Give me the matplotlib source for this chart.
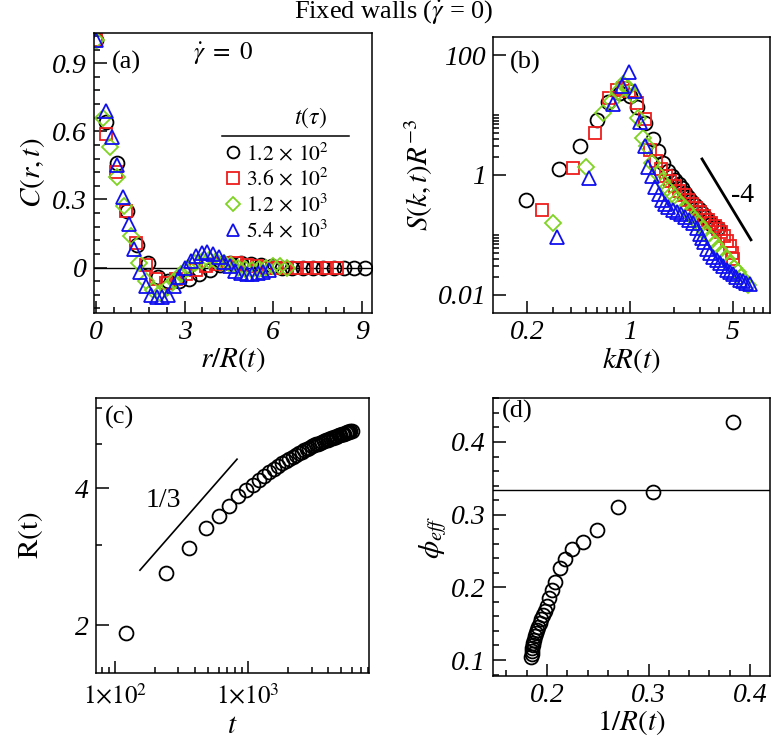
import matplotlib
matplotlib.use("Agg")
import matplotlib.pyplot as plt
from matplotlib.lines import Line2D
from matplotlib.ticker import MultipleLocator, FixedLocator, LogLocator, NullFormatter

plt.rcParams["font.family"] = ["Liberation Serif", "DejaVu Serif"]
plt.rcParams["mathtext.fontset"] = "stix"

# ---- (a) C(r,t) vs r/R(t) ----
r_black = [0.0, 0.35, 0.70, 1.05, 1.40, 1.75, 2.10, 2.45, 2.80, 3.15, 3.50, 3.85, 4.20, 4.55,
           4.90, 5.25, 5.60, 5.95, 6.30, 6.65, 7.00, 7.35, 7.70, 8.05, 8.40, 8.75, 9.10]
c_black = [1.0, 0.64, 0.46, 0.25, 0.10, 0.02, -0.04, -0.06, -0.06, -0.05, -0.03, -0.01, 0.01, 0.02,
           0.02, 0.015, 0.01, 0.005, 0.0, 0.0, 0.0, 0.0, 0.0, 0.0, 0.0, 0.0, 0.0]
r_red = [0.0, 0.34, 0.68, 1.02, 1.36, 1.70, 2.04, 2.38, 2.72, 3.06, 3.40, 3.74, 4.08, 4.42,
         4.76, 5.10, 5.44, 5.78, 6.12, 6.46, 6.80, 7.14, 7.48, 7.82, 8.16]
c_red = [1.0, 0.59, 0.42, 0.25, 0.11, 0.01, -0.05, -0.07, -0.05, -0.03, -0.01, 0.005, 0.015, 0.02,
         0.02, 0.01, 0.005, 0.0, 0.0, 0.0, 0.0, 0.0, 0.0, 0.0, 0.0]
r_green = [0.0, 0.24, 0.48, 0.72, 0.96, 1.20, 1.44, 1.68, 1.92, 2.16, 2.40, 2.64, 2.88, 3.12,
           3.36, 3.60, 3.84, 4.08, 4.32, 4.56, 4.80, 5.04, 5.28, 5.52, 5.76, 6.00, 6.24, 6.48]
c_green = [1.0, 0.66, 0.53, 0.40, 0.27, 0.14, 0.02, -0.06, -0.10, -0.11, -0.09, -0.06, -0.03, 0.0,
           0.02, 0.03, 0.035, 0.03, 0.02, 0.01, 0.0, -0.005, -0.01, -0.005, 0.0, 0.005, 0.005, 0.0]
r_blue = [0.0, 0.34, 0.53, 0.72, 0.92, 1.11, 1.30, 1.49, 1.68, 1.87, 2.06, 2.25, 2.44, 2.63, 2.82,
          3.01, 3.20, 3.39, 3.58, 3.77, 3.96, 4.15, 4.34, 4.53, 4.72, 4.91, 5.10, 5.29, 5.48, 5.67, 5.86]
c_blue = [1.0, 0.69, 0.575, 0.45, 0.31, 0.19, 0.08, -0.02, -0.08, -0.12, -0.13, -0.13, -0.12, -0.08, -0.04,
          0.0, 0.03, 0.05, 0.065, 0.07, 0.06, 0.045, 0.025, 0.005, -0.015, -0.025, -0.03, -0.03, -0.025, -0.02, -0.01]

# ---- (b) S(k,t)R^-3 vs kR(t) ----
k_black = [0.196, 0.329, 0.457, 0.597, 0.71, 0.86, 1.0, 1.115, 1.27, 1.43, 1.55, 1.68, 1.81, 1.92,
           2.02, 2.14, 2.26, 2.37, 2.48, 2.62, 2.77, 2.93, 3.09, 3.24, 3.39, 3.58, 3.78, 3.97]
s_black = [0.38, 1.26, 3.0, 8.3, 16.5, 23.5, 21, 13.5, 7.5, 4.0, 2.5, 1.6, 1.15, 0.95,
           0.83, 0.71, 0.61, 0.51, 0.43, 0.37, 0.32, 0.27, 0.23, 0.20, 0.18, 0.155, 0.136, 0.13]
k_red = [0.252, 0.41, 0.578, 0.72, 0.82, 0.90, 0.99, 1.12, 1.26, 1.37, 1.50, 1.62, 1.75, 1.88, 2.02, 2.17,
         2.32, 2.48, 2.65, 2.82, 3.00, 3.18, 3.37, 3.56, 3.76, 3.96, 4.16, 4.36, 4.56, 4.76, 4.96, 5.03]
s_red = [0.26, 1.31, 5.0, 19, 26, 28, 25, 16, 8.6, 2.6, 1.7, 1.25, 0.98, 0.80, 0.66, 0.55,
         0.46, 0.39, 0.33, 0.28, 0.24, 0.21, 0.18, 0.16, 0.14, 0.125, 0.11, 0.095, 0.08, 0.065, 0.05, 0.04]
k_green = [0.30, 0.50, 0.655, 0.76, 0.83, 0.90, 0.97, 1.05, 1.13, 1.22, 1.31, 1.42, 1.54, 1.66, 1.79, 1.93,
           2.08, 2.23, 2.40, 2.57, 2.75, 2.94, 3.14, 3.35, 3.57, 3.80, 4.04, 4.29, 4.55, 4.82, 5.10,
           5.39, 5.69, 6.00, 6.32]
s_green = [0.16, 1.38, 11, 17, 24, 33, 28, 21.5, 9, 4.1, 3.0, 1.6, 1.05, 0.78, 0.60, 0.48,
           0.39, 0.32, 0.27, 0.22, 0.18, 0.15, 0.125, 0.10, 0.085, 0.07, 0.058, 0.048, 0.04, 0.033, 0.028,
           0.024, 0.02, 0.017, 0.0145]
k_blue = [0.319, 0.527, 0.766, 0.88, 0.985, 1.08, 1.17, 1.26, 1.33, 1.41, 1.48, 1.57, 1.65, 1.73, 1.81,
          1.95, 2.09, 2.23, 2.37, 2.52, 2.68, 2.85, 3.00, 3.09, 3.20, 3.33, 3.50, 3.67, 3.88, 4.10,
          4.32, 4.56, 4.78, 5.00, 5.30, 5.60, 5.90, 6.20, 6.50]
s_blue = [0.093, 0.89, 15.5, 30, 52, 25, 7.6, 3.0, 1.36, 0.95, 0.63, 0.48, 0.38, 0.33, 0.29,
          0.26, 0.24, 0.22, 0.20, 0.18, 0.16, 0.13, 0.105, 0.09, 0.075, 0.058, 0.05, 0.043, 0.038, 0.034,
          0.03, 0.026, 0.024, 0.022, 0.02, 0.018, 0.017, 0.016, 0.015]
slope_k = [3.09, 6.65]
slope_s = [1.85, 0.083]

# ---- (c) R(t) vs t ----
t_c = [120, 240, 360, 480, 600, 720, 840, 960, 1080, 1200, 1320, 1440, 1560, 1680, 1800, 1920,
       2040, 2160, 2280, 2400, 2520, 2640, 2760, 2880, 3000, 3120, 3240, 3360, 3480, 3600, 3720,
       3840, 3960, 4080, 4200, 4320, 4440, 4560, 4680, 4800, 4920, 5040, 5160, 5280, 5400, 5520,
       5640, 5760, 5880, 6000]
R_c = [1.92, 2.60, 2.95, 3.27, 3.47, 3.66, 3.84, 3.96, 4.07, 4.17, 4.26, 4.33, 4.40, 4.47, 4.53, 4.59,
       4.64, 4.69, 4.73, 4.77, 4.81, 4.85, 4.88, 4.91, 4.94, 4.97, 4.99, 5.01, 5.03, 5.05, 5.07,
       5.09, 5.11, 5.13, 5.15, 5.16, 5.18, 5.19, 5.21, 5.22, 5.24, 5.25, 5.26, 5.27, 5.29, 5.30,
       5.31, 5.32, 5.33, 5.34]
third_t = [154, 826]
third_R = [2.64, 4.63]

# ---- (d) phi_eff vs 1/R(t) ----
invR_d = [0.383, 0.304, 0.270, 0.249, 0.235, 0.225, 0.218, 0.213, 0.208, 0.205, 0.202, 0.200, 0.198,
          0.196, 0.194, 0.193, 0.191, 0.190, 0.189, 0.188, 0.187, 0.1865, 0.186, 0.1855, 0.185,
          0.1848, 0.1845]
phi_d = [0.428, 0.331, 0.311, 0.279, 0.262, 0.253, 0.239, 0.227, 0.208, 0.196, 0.185, 0.175, 0.168,
         0.162, 0.156, 0.151, 0.146, 0.141, 0.137, 0.133, 0.128, 0.124, 0.120, 0.116, 0.112,
         0.108, 0.104]

times_lbl = [r"$1.2\,\times\,10^{2}$", r"$3.6\,\times\,10^{2}$",
             r"$1.2\,\times\,10^{3}$", r"$5.4\,\times\,10^{3}$"]
RED, GREEN, BLUE = "#ee1c1c", "#7ed321", "#1010ee"
MS, MEW = 10, 1.3
TFS = 20
LFS = 21


def style(ax):
    ax.tick_params(which="both", direction="in", top=False, right=False, width=1.1, pad=5)
    ax.tick_params(which="major", length=9)
    ax.tick_params(which="minor", length=4.5)
    for sp in ax.spines.values():
        sp.set_linewidth(1.1)


def ticks(ax, xt, xl, yt, yl, xfs=TFS):
    ax.set_xticks(xt, xl, fontstyle="italic", fontsize=xfs)
    ax.set_yticks(yt, yl, fontstyle="italic", fontsize=TFS)


fig = plt.figure(figsize=(7.72, 7.44), dpi=100)
fig.text(0.51, 0.983, r"Fixed walls ($\dot{\gamma}$ = 0)", ha="center", va="center", fontsize=19)

# (a)
ax = fig.add_axes([94 / 772, 1 - 313 / 744, 278 / 772, 280 / 744])
ax.axhline(0, color="k", lw=1.0, zorder=1)
ax.plot(r_black, c_black, "o", ls="none", mfc="none", mec="k", ms=MS, mew=MEW)
ax.plot(r_red, c_red, "s", ls="none", mfc="none", mec=RED, ms=9, mew=MEW)
ax.plot(r_green, c_green, "D", ls="none", mfc="none", mec=GREEN, ms=8, mew=MEW)
ax.plot(r_blue, c_blue, "^", ls="none", mfc="none", mec=BLUE, ms=MS, mew=MEW)
ax.set_xlim(-0.07, 9.35)
ax.set_ylim(-0.2, 1.033)
ticks(ax, [0, 3, 6, 9], ["0", "3", "6", "9"], [0, 0.3, 0.6, 0.9], ["0", "0.3", "0.6", "0.9"])
ax.xaxis.set_minor_locator(MultipleLocator(0.6))
ax.yaxis.set_minor_locator(MultipleLocator(0.06))
style(ax)
ax.set_xlabel(r"$r/R(t)$", fontsize=LFS, labelpad=0)
ax.set_ylabel(r"$C(r,t)$", fontsize=LFS, labelpad=4)
ax.text(0.065, 0.895, "(a)", transform=ax.transAxes, fontsize=19, va="center")
ax.text(0.356, 0.93, r"$\dot{\gamma}\ =\ 0$", transform=ax.transAxes, fontsize=18, va="center")
ax.text(0.78, 0.696, r"$t(\tau)$", transform=ax.transAxes, fontsize=17, ha="center", va="center")
ax.plot([0.46, 0.917], [0.632, 0.632], color="k", lw=1.1, transform=ax.transAxes)
handles = [Line2D([], [], ls="none", marker=m, mfc="none", mec=c, ms=s, mew=MEW)
           for m, c, s in [("o", "k", 8.5), ("s", RED, 8), ("D", GREEN, 7), ("^", BLUE, 8.5)]]
ax.legend(handles, times_lbl, loc="upper left", bbox_to_anchor=(0.47, 0.609), frameon=False,
          fontsize=15.5, handlelength=0.8, handletextpad=0.2, labelspacing=0.17,
          borderpad=0, borderaxespad=0)

# (b)
ax = fig.add_axes([493 / 772, 1 - 313 / 744, 277 / 772, 276 / 744])
ax.set_xscale("log")
ax.set_yscale("log")
ax.plot(k_black, s_black, "o", ls="none", mfc="none", mec="k", ms=MS, mew=MEW)
ax.plot(k_red, s_red, "s", ls="none", mfc="none", mec=RED, ms=9, mew=MEW)
ax.plot(k_green, s_green, "D", ls="none", mfc="none", mec=GREEN, ms=8, mew=MEW)
ax.plot(k_blue, s_blue, "^", ls="none", mfc="none", mec=BLUE, ms=MS, mew=MEW)
ax.plot(slope_k, slope_s, color="k", lw=2.0)
ax.text(5.87, 0.46, "-4", fontsize=20, ha="center", va="center")
ax.set_xlim(0.117, 8.96)
ax.set_ylim(0.005, 200)
ticks(ax, [0.2, 1, 5], ["0.2", "1", "5"], [0.01, 1, 100], ["0.01", "1", "100"])
ax.xaxis.set_minor_locator(LogLocator(base=10, subs=range(1, 10), numticks=20))
ax.yaxis.set_minor_locator(FixedLocator([0.02, 0.03, 0.04, 0.05, 0.06, 0.07, 0.08, 0.09, 0.1,
                                         2, 3, 4, 5, 6, 7, 8, 9, 10]))
ax.xaxis.set_minor_formatter(NullFormatter())
ax.yaxis.set_minor_formatter(NullFormatter())
style(ax)
ax.set_xlabel(r"$kR(t)$", fontsize=LFS, labelpad=0)
ax.set_ylabel(r"$S(k,t)R^{-3}$", fontsize=LFS, labelpad=2)
ax.text(0.061, 0.909, "(b)", transform=ax.transAxes, fontsize=19, va="center")

# (c)
ax = fig.add_axes([96 / 772, 1 - 673 / 744, 273 / 772, 275 / 744])
ax.set_xscale("log")
ax.set_yscale("log")
ax.plot(t_c, R_c, "o", ls="none", mfc="none", mec="k", ms=MS, mew=MEW)
ax.plot(third_t, third_R, color="k", lw=1.2)
ax.text(229, 3.76, "1/3", fontsize=20, ha="center", va="center")
ax.set_xlim(72, 8100)
ax.set_ylim(1.569, 6.31)
ticks(ax, [100, 1000], [r"$\mathit{1{\times}10^{2}}$", r"$\mathit{1{\times}10^{3}}$"],
      [2, 4], ["2", "4"], xfs=18)
ax.xaxis.set_minor_locator(LogLocator(base=10, subs=range(1, 10), numticks=20))
ax.yaxis.set_minor_locator(FixedLocator([3, 5, 6]))
ax.xaxis.set_minor_formatter(NullFormatter())
ax.yaxis.set_minor_formatter(NullFormatter())
style(ax)
ax.tick_params(axis="x", which="major", pad=8)
ax.set_xlabel(r"$t$", fontsize=LFS)
ax.xaxis.set_label_coords(0.5, -0.145)
ax.set_ylabel(r"$\mathrm{R(t)}$", fontsize=LFS, labelpad=22)
ax.text(0.033, 0.93, "(c)", transform=ax.transAxes, fontsize=19, va="center")

# (d)
ax = fig.add_axes([493 / 772, 1 - 676 / 744, 277 / 772, 278 / 744])
ax.axhline(1 / 3, color="k", lw=1.0)
ax.plot(invR_d, phi_d, "o", ls="none", mfc="none", mec="k", ms=MS, mew=MEW)
ax.set_xlim(0.1468, 0.4197)
ax.set_ylim(0.078, 0.4605)
ticks(ax, [0.2, 0.3, 0.4], ["0.2", "0.3", "0.4"], [0.1, 0.2, 0.3, 0.4], ["0.1", "0.2", "0.3", "0.4"])
ax.xaxis.set_minor_locator(MultipleLocator(0.02))
ax.yaxis.set_minor_locator(MultipleLocator(0.02))
style(ax)
ax.set_xlabel(r"$1/R(t)$", fontsize=LFS, labelpad=0)
ax.set_ylabel(r"$\phi_{eff}$", fontsize=LFS, labelpad=2)
ax.text(0.032, 0.95, "(d)", transform=ax.transAxes, fontsize=19, va="center")

fig.savefig("out.png", dpi=100)
